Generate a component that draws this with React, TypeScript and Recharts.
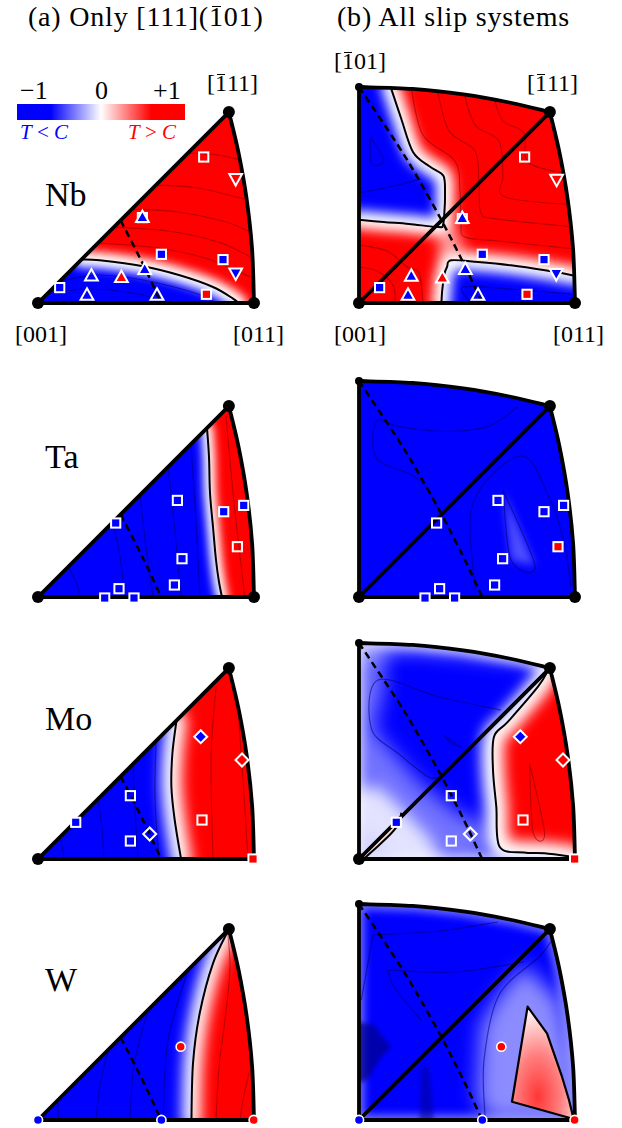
import React from "react";
import { ScatterChart, Scatter, XAxis, YAxis } from "recharts";

type XY = [number, number];
type Mark = [number, number, string, string]; // x, y, symbol, fill (b = blue, r = red, o = open)

const BLUE = "#0000ff";
const RED = "#ff0000";
const DARK_B = "#000070";
const DARK_R = "#7a0000";

// stereographic coordinates, [001] at the origin, [011] at (216, 0)
const TRI: XY[] = [[0, 0], [216, 0], [214.1, 53.5], [208.6, 104.3], [200.5, 150.4], [190.9, 190.9]];
const QUAD: XY[] = [[0, 0], [216, 0], [214.1, 53.5], [208.6, 104.3], [200.5, 150.4], [190.9, 190.9], [150.4, 200.5], [104.3, 208.6], [53.5, 214.1], [0, 216]];
const ARC_RIGHT: XY[] = [[216, 0], [214.1, 53.5], [208.6, 104.3], [200.5, 150.4], [190.9, 190.9]];
const ARC_TOP: XY[] = [[190.9, 190.9], [150.4, 200.5], [104.3, 208.6], [53.5, 214.1], [0, 216]];
const EDGE_BOTTOM: XY[] = [[0, 0], [216, 0]];
const EDGE_LEFT: XY[] = [[0, 216], [0, 0]];
const DIAGONAL: XY[] = [[0, 0], [190.9, 190.9]];
const DASH_L: XY[] = [[82.6, 82.6], [99.5, 49.8], [110.4, 27.6], [123.1, 0]];
const DASH_R: XY[] = [[0, 216], [39.3, 157.1], [60.8, 121.5], [82.6, 82.6], [99.5, 49.8], [110.4, 27.6], [123.1, 0]];
const VERT_ALL: XY[] = [[0, 0], [216, 0], [190.9, 190.9]];
const VERT_NO011: XY[] = [[0, 0], [190.9, 190.9]];
const VERT_TOP: XY[] = [[190.9, 190.9]];
const VERT_101: XY[] = [[0, 216]];

// ---- Nb ----
const NB_L_BLUE: XY[] = [[-10, -10], [-10, 44], [20, 44], [43.5, 43.5], [61.7, 42.7], [105, 36.7], [141.7, 27.7], [175, 16], [195, 4.4], [201.7, 0], [204, -10]];
const NB_L_ZERO: XY[] = [[43.5, 43.5], [61.7, 42.7], [105, 36.7], [141.7, 27.7], [175, 16], [195, 4.4], [201.7, -1]];
const NB_L_RED_CONT: XY[][] = [
  [[60, 60], [120, 55], [170, 44], [212, 26]],
  [[76, 76], [130, 72], [180, 61], [211, 47]],
  [[94, 94], [140, 91], [185, 82], [210, 72]],
  [[118, 118], [160, 115], [206, 104]],
  [[150, 150], [180, 148], [202, 143]],
];
const NB_L_BLUE_CONT: XY[][] = [
  [[22, 22], [60, 28], [110, 22], [160, 9], [178, 0]],
  [[9, 9], [50, 14], [100, 9], [128, 0]],
];
const NB_L_MARKS: Mark[] = [
  [165.7, 146, "sq", "o"], [197.7, 124.4, "td", "o"], [104.4, 85.4, "sq", "o"], [104.4, 85.4, "tu", "b"],
  [123.4, 48.7, "sq", "b"], [185, 43.4, "sq", "b"], [197.7, 30, "td", "b"], [106.7, 33.4, "tu", "b"],
  [83.4, 25.4, "tu", "r"], [53.4, 27, "tu", "o"], [49, 7.7, "tu", "o"], [119, 7.7, "tu", "o"],
  [21.7, 15.4, "sq", "b"], [168.4, 8.7, "sq", "r"],
];

const NB_R_BLUE_UL: XY[] = [[-10, 226], [30, 226], [31.3, 217], [42, 185], [54, 151], [70, 137], [82.3, 129.4], [85.6, 122.7], [86, 105], [85.6, 94.4], [84, 78], [79.3, 76], [50, 79], [24.6, 81], [0, 83.4], [-10, 84]];
const NB_R_BLUE_LR: XY[] = [[81, -10], [82.3, 0], [83, 10], [84, 19.4], [85, 28], [88, 36], [92.3, 42.7], [119, 41], [152, 37.7], [186, 32.7], [216, 27], [226, 26], [226, -10]];
const NB_R_ZERO_UL: XY[] = [[31.3, 217], [42, 185], [54, 151], [70, 137], [82.3, 129.4], [85.6, 122.7], [86, 105], [85.6, 94.4], [84, 78], [79.3, 76], [50, 79], [24.6, 81], [-1, 83.4]];
const NB_R_ZERO_LR: XY[] = [[82.3, -2], [83, 10], [84, 19.4], [85, 28], [88, 36], [92.3, 42.7], [119, 41], [152, 37.7], [186, 32.7], [218, 27]];
const NB_R_PALE: XY[] = [[80, 45], [80, 75], [95, 75], [105, 60], [100, 45]];
const NB_R_RED_CONT: XY[][] = [
  [[52, 216], [64, 168], [96, 142], [101, 112], [102, 80], [106, 66], [140, 62], [216, 54]],
  [[78, 214], [90, 172], [116, 152], [120, 118], [122, 90], [138, 84], [216, 76]],
  [[105, 210], [116, 178], [140, 162], [144, 128], [146, 106], [216, 98]],
  [[135, 205], [144, 182], [165, 170], [170, 140], [216, 128]],
  [[0, 58], [28, 52], [48, 36], [60, 30], [64, 0]],
  [[0, 36], [18, 32], [34, 18], [36, 0]],
];
const NB_R_BLUE_CONT: XY[][] = [
  [[0, 110], [30, 116], [62, 124]],
  [[11.6, 166], [12.3, 139.4], [25, 142.7], [11.6, 166]],
  [[112, 0], [104, 16], [150, 14], [212, 9]],
];
const NB_R_MARKS: Mark[] = [
  [165.6, 146, "sq", "o"], [197.6, 123.7, "td", "o"], [103.3, 84.4, "sq", "o"], [103.3, 84.4, "tu", "b"],
  [123.3, 48.7, "sq", "b"], [185, 43.4, "sq", "b"], [197.3, 29.4, "td", "b"], [106.3, 33.4, "tu", "b"],
  [83.3, 25, "tu", "r"], [52.3, 26.7, "tu", "b"], [49, 7.7, "tu", "b"], [119, 7.7, "tu", "o"],
  [20.6, 15.4, "sq", "b"], [168, 8.7, "sq", "r"],
];

// ---- Ta ----
const TA_L_RED: XY[] = [[166, 172], [169, 169], [171, 140], [172, 104], [175, 70], [178, 37], [181, 15], [184.4, 0], [185, -10], [226, -10], [226, 226], [166, 226]];
const TA_L_ZERO: XY[] = [[169, 169], [171, 140], [172, 104], [175, 70], [178, 37], [181, 15], [184.4, -2]];
const TA_L_BLUE_CONT: XY[][] = [
  [[30, 30], [38, 15], [42, 0]],
  [[75, 75], [82, 40], [87, 0]],
  [[102, 102], [108, 50], [115, 0]],
  [[130, 130], [137, 65], [143, 0]],
  [[153, 153], [158, 75], [162, 0]],
];
const TA_L_RED_CONT: XY[][] = [[[188, 181], [195, 104], [201, 50], [206.7, 0]]];
const TA_L_MARKS: Mark[] = [
  [139.4, 96.6, "sq", "o"], [185.7, 85.3, "sq", "b"], [205.7, 91.6, "sq", "b"], [199.4, 50.3, "sq", "o"],
  [77.7, 74, "sq", "b"], [144, 38.3, "sq", "o"], [136.4, 12, "sq", "o"], [81, 8.3, "sq", "o"],
  [66.7, -1, "sq", "b"], [96, -1, "sq", "b"],
];
const TA_R_PALE: XY[] = [[144, 107], [152, 37], [176, 31]];
const TA_R_BLUE_CONT: XY[][] = [
  [[159, 190.6], [129, 170.6], [85.6, 165.6], [39, 170.6], [17.3, 175.6], [17.3, 139], [52.3, 122.3], [69, 107.3], [80.6, 84]],
  [[116, 8], [114, 94], [162, 141], [190, 100], [205, 55], [212, 10]],
  [[144, 107], [152, 37], [176, 31], [144, 107]],
];
const TA_R_MARKS: Mark[] = [
  [139, 96.6, "sq", "o"], [185, 85.3, "sq", "o"], [204.6, 91.6, "sq", "b"], [199, 50.3, "sq", "r"],
  [77.6, 74, "sq", "o"], [143.6, 38.3, "sq", "o"], [135.6, 12, "sq", "o"], [80.6, 8.3, "sq", "o"],
  [66, -1, "sq", "b"], [95.6, -1, "sq", "b"],
];

// ---- Mo ----
const MO_L_RED: XY[] = [[130, 150], [138.5, 138.5], [134.4, 105.6], [133.4, 72.3], [136.7, 39], [143.4, 0], [145, -10], [226, -10], [226, 226], [130, 226]];
const MO_L_ZERO: XY[] = [[138.5, 138.5], [134.4, 105.6], [133.4, 72.3], [136.7, 39], [143.4, -2]];
const MO_L_BLUE_CONT: XY[][] = [
  [[22, 22], [25, 8], [26, 0]],
  [[60, 60], [64, 30], [66, 0]],
  [[95, 95], [97, 50], [100, 0]],
  [[118, 118], [117, 60], [121, 0]],
];
const MO_L_RED_CONT: XY[][] = [[[178, 172], [173, 100], [175, 0]], [[200, 150], [205, 80], [210, 0]]];
const MO_MARKS_L: Mark[] = [
  [162.7, 122.3, "dm", "b"], [204, 99, "dm", "r"], [92.4, 63.3, "sq", "o"], [37.7, 36.7, "sq", "b"],
  [164, 39, "sq", "r"], [111.7, 25, "dm", "o"], [92.4, 18, "sq", "o"], [215, 0, "sq", "r"],
];
const MO_R_PALE_CORNER: XY[] = [[-10, -10], [-10, 70], [20, 72], [45, 48], [72, 20], [85, -10]];
const MO_R_PALE_LEFT: XY[] = [[-10, 40], [-10, 226], [22, 226], [26, 175], [14, 130], [38, 102], [62, 75], [100, 45], [128, 35], [130, -10], [40, -10]];
const MO_R_PALE_TOP: XY[] = [[-10, 226], [200, 226], [188, 192], [150, 194], [100, 200], [50, 204], [20, 200], [-10, 196]];
const MO_R_RED: XY[] = [[190.3, 190.7], [179, 172.3], [149, 137.3], [135, 122.3], [134, 89], [137.3, 52.3], [140.6, 12.3], [165, 6.5], [185.6, 5.7], [215.6, 1.7], [226, 0], [226, 226], [195, 226]];
const MO_R_ZERO: XY[] = [[190.3, 190.7], [179, 172.3], [149, 137.3], [135, 122.3], [134, 89], [137.3, 52.3], [140.6, 12.3], [165, 6.5], [185.6, 5.7], [217, 1.7]];
const MO_R_PINK: XY[] = [[0, 0], [42.3, 46.3], [40, 36], [32.3, 25.7], [18, 12], [5.6, 1]];
const MO_R_ZERO2: XY[] = [[5.6, 1], [18, 12], [32.3, 25.7], [40, 36], [42.3, 46.3]];
const MO_R_BLUE_CONT: XY[][] = [
  [[142, 149], [80, 162], [19, 179], [12.3, 130.7], [40, 105], [69, 82.3], [80, 82]],
  [[84, 124], [102, 112], [92, 116], [84, 124]],
];
const MO_R_RED_CONT: XY[][] = [[[170.6, 95.7], [185.6, 25.7], [174, 27.3], [170.6, 95.7]]];
const MO_MARKS_R: Mark[] = [
  [161.3, 122.3, "dm", "b"], [204, 99, "dm", "r"], [92.3, 63.3, "sq", "o"], [37.3, 36.7, "sq", "b"],
  [164, 39, "sq", "r"], [111.3, 25, "dm", "o"], [92.3, 18, "sq", "o"], [215.6, 0, "sq", "r"],
];

// ---- W ----
const W_L_RED: XY[] = [[190.9, 190.9], [175, 156.7], [161.7, 106.7], [155, 56.7], [153.4, 0], [153, -10], [226, -10], [226, 226], [196, 226]];
const W_L_ZERO: XY[] = [[190.9, 190.9], [175, 156.7], [161.7, 106.7], [155, 56.7], [153.4, -2]];
const W_L_BLUE_CONT: XY[][] = [
  [[20, 20], [20, 8], [21, 0]],
  [[70, 70], [62, 35], [58, 0]],
  [[110, 110], [96, 55], [92, 0]],
  [[150, 150], [130, 80], [125, 0]],
];
const W_L_RED_CONT: XY[][] = [[[190, 185], [192, 150], [187, 100], [181, 53], [178, 0]], [[211, 47], [205, 20], [202, 0]]];
const W_MARKS_L: Mark[] = [[0, 0, "ci", "b"], [123.4, 0, "ci", "b"], [215.7, 0, "ci", "r"], [142.7, 73.3, "ci", "r"]];
const W_R_PALE: XY[] = [[165, 155], [140, 125], [122, 95], [118, 20], [130, 0], [216, 0], [214, 60], [200, 120]];
const W_R_DARK1: XY[] = [[-10, 100], [15, 95], [32, 73], [20, 60], [9, 40], [-10, 35]];
const W_R_DARK2: XY[] = [[60, -10], [62, 55], [70, 52], [76, -10]];
const W_R_RED: XY[] = [[168.6, 113.3], [188, 86.7], [203, 43.3], [210, 20], [214.6, 1], [153, 18.3]];
const W_R_BLUE_CONT: XY[][] = [
  [[14, 185], [80, 189], [139, 198]],
  [[14, 185], [2.3, 120]],
  [[29, 150], [95, 148], [165, 158]],
  [[29, 150], [35, 133], [62, 100]],
  [[126, 3], [125, 60], [140, 125], [180, 163], [193, 180]],
];
const W_MARKS_R: Mark[] = [[0, 0, "ci", "b"], [123.3, 0, "ci", "b"], [215.6, 0, "ci", "r"], [142.3, 73.3, "ci", "r"]];

const ELEMENTS = ["Nb", "Ta", "Mo", "W"];
const ROW_BASE = [302.7, 597.3, 859, 1120];
const COLORBAR_TICKS = ["\u22121", "0", "+1"];

type Fill = { pts: XY[]; color: string; op?: number; blur?: number };
type Cfg = {
  id: string;
  wide: boolean;
  row: number;
  base: string;
  edgeGlow?: number;
  pale: Fill[];
  fills: Fill[];
  glow: XY[][];
  glowW: number;
  glowBlur: number;
  blueCont: XY[][];
  redCont: XY[][];
  zero: XY[][];
  closedZero?: XY[][];
  dots: XY[];
  small: XY[];
  marks: Mark[];
};

const PANELS: Cfg[] = [
  { id: "nbL", wide: false, row: 0, base: RED, pale: [], fills: [{ pts: NB_L_BLUE, color: BLUE }], glow: [NB_L_ZERO], glowW: 16, glowBlur: 5, blueCont: NB_L_BLUE_CONT, redCont: NB_L_RED_CONT, zero: [NB_L_ZERO], dots: VERT_ALL, small: [], marks: NB_L_MARKS },
  { id: "nbR", wide: true, row: 0, base: RED, pale: [], fills: [{ pts: NB_R_BLUE_UL, color: BLUE }, { pts: NB_R_BLUE_LR, color: BLUE }, { pts: NB_R_PALE, color: "#fff", op: 0.6, blur: 7 }], glow: [NB_R_ZERO_UL, NB_R_ZERO_LR], glowW: 18, glowBlur: 6, blueCont: NB_R_BLUE_CONT, redCont: NB_R_RED_CONT, zero: [NB_R_ZERO_UL, NB_R_ZERO_LR], dots: VERT_ALL, small: VERT_101, marks: NB_R_MARKS },
  { id: "taL", wide: false, row: 1, base: BLUE, pale: [], fills: [{ pts: TA_L_RED, color: RED }], glow: [TA_L_ZERO], glowW: 12, glowBlur: 4, blueCont: TA_L_BLUE_CONT, redCont: TA_L_RED_CONT, zero: [TA_L_ZERO], dots: VERT_ALL, small: [], marks: TA_L_MARKS },
  { id: "taR", wide: true, row: 1, base: BLUE, pale: [{ pts: TA_R_PALE, color: "#fff", op: 0.3, blur: 4 }], fills: [], glow: [], glowW: 0, glowBlur: 4, blueCont: TA_R_BLUE_CONT, redCont: [], zero: [], dots: VERT_ALL, small: VERT_101, marks: TA_R_MARKS },
  { id: "moL", wide: false, row: 2, base: BLUE, pale: [], fills: [{ pts: MO_L_RED, color: RED }], glow: [MO_L_ZERO], glowW: 20, glowBlur: 7, blueCont: MO_L_BLUE_CONT, redCont: MO_L_RED_CONT, zero: [MO_L_ZERO], dots: VERT_NO011, small: [], marks: MO_MARKS_L },
  { id: "moR", wide: true, row: 2, base: BLUE, edgeGlow: 0.6, pale: [{ pts: MO_R_PALE_CORNER, color: "#fff", op: 0.8, blur: 8 }, { pts: MO_R_PALE_LEFT, color: "#fff", op: 0.45, blur: 10 }, { pts: MO_R_PALE_TOP, color: "#fff", op: 0.35, blur: 8 }], fills: [{ pts: MO_R_RED, color: RED }, { pts: MO_R_PINK, color: "#ffdcdc" }], glow: [MO_R_ZERO], glowW: 22, glowBlur: 7, blueCont: MO_R_BLUE_CONT, redCont: MO_R_RED_CONT, zero: [MO_R_ZERO, MO_R_ZERO2], dots: VERT_NO011, small: VERT_101, marks: MO_MARKS_R },
  { id: "wL", wide: false, row: 3, base: BLUE, pale: [], fills: [{ pts: W_L_RED, color: RED }], glow: [W_L_ZERO], glowW: 18, glowBlur: 7, blueCont: W_L_BLUE_CONT, redCont: W_L_RED_CONT, zero: [W_L_ZERO], dots: VERT_TOP, small: [], marks: W_MARKS_L },
  { id: "wR", wide: true, row: 3, base: BLUE, edgeGlow: 0.45, pale: [{ pts: W_R_PALE, color: "#fff", op: 0.55, blur: 10 }], fills: [{ pts: W_R_DARK1, color: "#00008b", op: 0.7, blur: 2 }, { pts: W_R_DARK2, color: "#00008b", op: 0.5, blur: 2 }, { pts: W_R_RED, color: "url(#wR-rg)" }], glow: [], glowW: 0, glowBlur: 4, blueCont: W_R_BLUE_CONT, redCont: [], zero: [], closedZero: [W_R_RED], dots: VERT_TOP, small: VERT_101, marks: W_MARKS_R },
];

type P = { x: number; y: number };
const f = (v: number) => v.toFixed(2);
const toData = (a: XY[]) => a.map(([x, y]) => ({ x, y }));
const noShape = () => <g />;
const lin = (p: P[], close = false) =>
  p.map((q, i) => `${i ? "L" : "M"}${f(q.x)},${f(q.y)}`).join(" ") + (close ? " Z" : "");
const smooth = (p: P[]) => {
  const n = p.length;
  if (n < 3) return lin(p);
  const at = (i: number) => p[Math.max(0, Math.min(n - 1, i))];
  let d = `M${f(p[0].x)},${f(p[0].y)}`;
  for (let i = 0; i < n - 1; i++) {
    const p0 = at(i - 1), p1 = at(i), p2 = at(i + 1), p3 = at(i + 2);
    d += ` C${f(p1.x + (p2.x - p0.x) / 6)},${f(p1.y + (p2.y - p0.y) / 6)} ${f(p2.x - (p3.x - p1.x) / 6)},${f(p2.y - (p3.y - p1.y) / 6)} ${f(p2.x)},${f(p2.y)}`;
  }
  return d;
};

const layer = (key: string, pts: XY[], render: (pp: P[]) => React.ReactNode) => (
  <Scatter
    key={key}
    data={toData(pts)}
    isAnimationActive={false}
    shape={noShape}
    line={(lp: any) => <g>{render(lp.points || [])}</g>}
  />
);

const MarkShape = (props: any) => {
  const { cx, cy, payload } = props;
  const fill = payload.c === "b" ? BLUE : payload.c === "r" ? RED : "none";
  const st = { fill, stroke: "#fff", strokeWidth: 2 };
  switch (payload.k) {
    case "sq":
      return <rect x={cx - 4.6} y={cy - 4.6} width={9.2} height={9.2} {...st} />;
    case "tu":
      return <polygon points={`${cx},${cy - 7} ${cx + 6.4},${cy + 4.5} ${cx - 6.4},${cy + 4.5}`} {...st} strokeLinejoin="miter" />;
    case "td":
      return <polygon points={`${cx},${cy + 7} ${cx + 6.4},${cy - 4.5} ${cx - 6.4},${cy - 4.5}`} {...st} strokeLinejoin="miter" />;
    case "dm":
      return <polygon points={`${cx},${cy - 6.5} ${cx + 6.5},${cy} ${cx},${cy + 6.5} ${cx - 6.5},${cy}`} {...st} />;
    default:
      return <circle cx={cx} cy={cy} r={4.6} fill={fill} stroke="#fff" strokeWidth={1.6} />;
  }
};

const BLURS = [2, 4, 5, 6, 7, 8, 10];

function Panel({ p }: { p: Cfg }) {
  const outline = p.wide ? QUAD : TRI;
  const clip = `url(#${p.id}-clip)`;
  const items: React.ReactNode[] = [];
  items.push(
    layer(`${p.id}-base`, outline, (pp) => (
      <>
        <defs>
          <clipPath id={`${p.id}-clip`}>
            <path d={lin(pp, true)} />
          </clipPath>
          {BLURS.map((b) => (
            <filter key={b} id={`${p.id}-f${b}`} filterUnits="userSpaceOnUse" x={-100} y={-100} width={460} height={460}>
              <feGaussianBlur stdDeviation={b} />
            </filter>
          ))}
          <radialGradient id={`${p.id}-rg`} cx="0.42" cy="0.8" r="0.75">
            <stop offset="0" stopColor="#ff3636" />
            <stop offset="0.5" stopColor="#ff8080" />
            <stop offset="1" stopColor="#fff0f0" />
          </radialGradient>
        </defs>
        <path d={lin(pp, true)} fill={p.base} />
      </>
    ))
  );
  const fillLayer = (fl: Fill, key: string) =>
    layer(key, fl.pts, (pp) => (
      <path
        d={lin(pp, true)}
        fill={fl.color}
        opacity={fl.op ?? 1}
        filter={fl.blur ? `url(#${p.id}-f${fl.blur})` : undefined}
        clipPath={clip}
      />
    ));
  p.pale.forEach((fl, i) => items.push(fillLayer(fl, `${p.id}-pale${i}`)));
  if (p.edgeGlow)
    items.push(
      layer(`${p.id}-edgeglow`, outline, (pp) => (
        <path d={lin(pp, true)} fill="none" stroke="#fff" strokeWidth={10} opacity={p.edgeGlow} filter={`url(#${p.id}-f4)`} clipPath={clip} />
      ))
    );
  p.fills.forEach((fl, i) => items.push(fillLayer(fl, `${p.id}-fill${i}`)));
  p.glow.forEach((g, i) =>
    items.push(
      layer(`${p.id}-glow${i}`, g, (pp) => (
        <path d={smooth(pp)} fill="none" stroke="#fff" strokeWidth={p.glowW} strokeLinecap="round" filter={`url(#${p.id}-f${p.glowBlur})`} clipPath={clip} />
      ))
    )
  );
  p.blueCont.forEach((c, i) =>
    items.push(layer(`${p.id}-bc${i}`, c, (pp) => <path d={smooth(pp)} fill="none" stroke={DARK_B} strokeWidth={1.2} opacity={0.55} clipPath={clip} />))
  );
  p.redCont.forEach((c, i) =>
    items.push(layer(`${p.id}-rc${i}`, c, (pp) => <path d={smooth(pp)} fill="none" stroke={DARK_R} strokeWidth={1.1} opacity={0.5} clipPath={clip} />))
  );
  p.zero.forEach((z, i) =>
    items.push(layer(`${p.id}-z${i}`, z, (pp) => <path d={smooth(pp)} fill="none" stroke="#000" strokeWidth={2} clipPath={clip} />))
  );
  (p.closedZero || []).forEach((z, i) =>
    items.push(layer(`${p.id}-cz${i}`, z, (pp) => <path d={lin(pp, true)} fill="none" stroke="#000" strokeWidth={2.2} strokeLinejoin="round" />))
  );
  const edge = { fill: "none", stroke: "#000", strokeWidth: 3.8, strokeLinecap: "round" as const };
  items.push(layer(`${p.id}-eb`, EDGE_BOTTOM, (pp) => <path d={lin(pp)} {...edge} />));
  items.push(layer(`${p.id}-ea`, ARC_RIGHT, (pp) => <path d={smooth(pp)} {...edge} />));
  items.push(layer(`${p.id}-ed`, DIAGONAL, (pp) => <path d={lin(pp)} {...edge} />));
  if (p.wide) {
    items.push(layer(`${p.id}-et`, ARC_TOP, (pp) => <path d={smooth(pp)} {...edge} />));
    items.push(layer(`${p.id}-el`, EDGE_LEFT, (pp) => <path d={lin(pp)} {...edge} />));
  }
  items.push(
    layer(`${p.id}-dash`, p.wide ? DASH_R : DASH_L, (pp) => (
      <path d={smooth(pp)} fill="none" stroke="#000" strokeWidth={2.5} strokeDasharray="7 4.5" clipPath={clip} />
    ))
  );
  items.push(
    <Scatter key={`${p.id}-dots`} data={toData(p.dots)} isAnimationActive={false} shape={(s: any) => <circle cx={s.cx} cy={s.cy} r={6} fill="#000" />} />
  );
  if (p.small.length)
    items.push(
      <Scatter key={`${p.id}-sdots`} data={toData(p.small)} isAnimationActive={false} shape={(s: any) => <circle cx={s.cx} cy={s.cy} r={4} fill="#000" />} />
    );
  items.push(
    <Scatter
      key={`${p.id}-marks`}
      data={p.marks.map(([x, y, k, c]) => ({ x, y, k, c }))}
      isAnimationActive={false}
      shape={MarkShape}
    />
  );
  const x0 = p.wide ? 358.7 : 38.3;
  return (
    <div style={{ position: "absolute", left: x0 - 12, top: ROW_BASE[p.row] - 228 }}>
      <ScatterChart width={240} height={240} margin={{ top: 0, right: 0, bottom: 0, left: 0 }}>
        <XAxis type="number" dataKey="x" domain={[-12, 228]} hide allowDataOverflow />
        <YAxis type="number" dataKey="y" domain={[-12, 228]} hide allowDataOverflow />
        {items}
      </ScatterChart>
    </div>
  );
}

// text placed by its baseline
const Txt = ({ x, b, s, c, ls, children }: { x: number; b: number; s: number; c?: string; ls?: number; children: React.ReactNode }) => (
  <div
    style={{
      position: "absolute",
      left: x,
      top: b - 0.8375 * s,
      fontSize: s,
      lineHeight: 1,
      whiteSpace: "nowrap",
      letterSpacing: ls || 0,
      color: c || "#000",
    }}
  >
    {children}
  </div>
);
// digit with a bar over it, sitting just above the figure
const Bar1 = () => (
  <span style={{ position: "relative", display: "inline-block" }}>
    1
    <span
      style={{
        position: "absolute",
        left: "0.1em",
        right: "0.1em",
        top: "0.12em",
        borderTop: "1.5px solid currentColor",
      }}
    />
  </span>
);

export default function App() {
  return (
    <div
      style={{
        position: "absolute",
        left: 0,
        top: 0,
        width: 622,
        height: 1128,
        overflow: "hidden",
        background: "#fff",
        fontFamily: "'Liberation Serif', 'Times New Roman', serif",
      }}
    >
      {PANELS.map((p) => (
        <Panel key={p.id} p={p} />
      ))}

      <Txt x={28} b={26} s={28} ls={0.8}>
        (a) Only [111](<Bar1 />01)
      </Txt>
      <Txt x={337} b={26} s={28} ls={0.8}>
        (b) All slip systems
      </Txt>

      <div
        style={{
          position: "absolute",
          left: 17,
          top: 104,
          width: 168,
          height: 16,
          background: "linear-gradient(to right, #0000ff 0%, #0000ff 20%, #ffffff 50%, #ff0000 80%, #ff0000 100%)",
        }}
      />
      <Txt x={20} b={100} s={26}>{COLORBAR_TICKS[0]}</Txt>
      <Txt x={95} b={100} s={26}>{COLORBAR_TICKS[1]}</Txt>
      <Txt x={153} b={100} s={26}>{COLORBAR_TICKS[2]}</Txt>
      <Txt x={20} b={140} s={21} c={BLUE}>
        <i>T</i> &lt; <i>C</i>
      </Txt>
      <Txt x={128} b={140} s={21} c={RED}>
        <i>T</i> &gt; <i>C</i>
      </Txt>

      <Txt x={207} b={91} s={24}>[<Bar1 />11]</Txt>
      <Txt x={334} b={69} s={24}>[<Bar1 />01]</Txt>
      <Txt x={527} b={91} s={24}>[<Bar1 />11]</Txt>
      <Txt x={15} b={342} s={24}>[001]</Txt>
      <Txt x={233} b={342} s={24}>[011]</Txt>
      <Txt x={334} b={342} s={24}>[001]</Txt>
      <Txt x={553} b={342} s={24}>[011]</Txt>

      {ELEMENTS.map((el, i) => (
        <Txt key={el} x={45} b={[206.7, 468.3, 730, 991.7][i]} s={34}>
          {el}
        </Txt>
      ))}
    </div>
  );
}
